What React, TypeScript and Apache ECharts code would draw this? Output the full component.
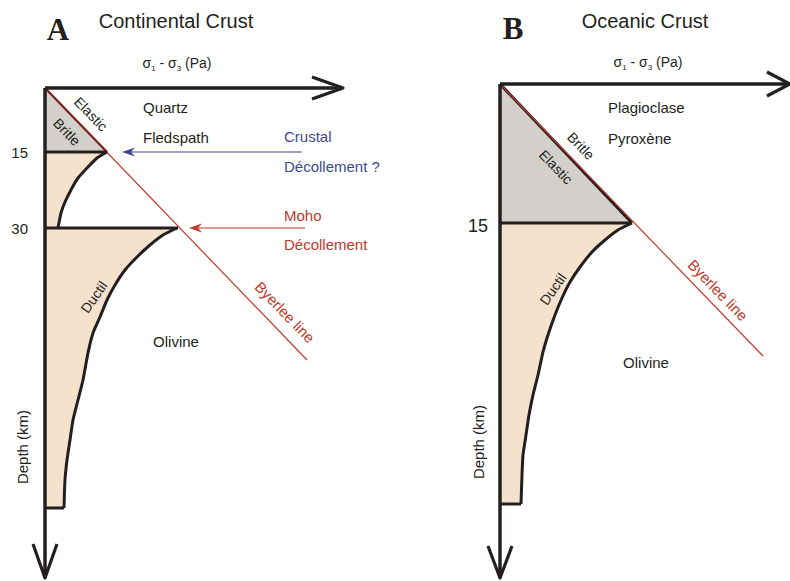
import React, { useEffect, useRef } from "react";
import * as echarts from "echarts";

// ---------------- Panel A : Continental crust (schematic diagram units: x = σ1-σ3, y = depth, downwards)
const A_STRESS_AXIS = [[0, 0], [298, 0]];
const A_STRESS_ARROW = [[267, -11], [298, 0], [267, 11]];
const A_DEPTH_AXIS = [[0, 0], [0, 490]];
const A_DEPTH_ARROW = [[-12, 456], [0, 490], [12, 456]];
const A_BYERLEE = [[0, 0], [262, 272]];
const A_BRITTLE = [[0, 0], [62, 64], [0, 64]];
const A_BRITTLE_EDGE = [[0, 0], [62, 64]];
const A_LEVEL_15 = [[0, 64], [62, 64]];
const A_UPPER_DUCTILE = [[62, 64], [52, 70], [42, 80], [33, 90], [27, 100], [20, 114], [16, 125], [13, 140]];
const A_LEVEL_30 = [[0, 140], [133, 140]];
const A_LOWER_DUCTILE = [[132, 140], [118, 147], [105, 157], [92, 169], [80, 182], [70, 197], [62, 212], [55, 229], [48, 245], [43, 265], [38, 292], [33, 312], [28, 332], [25, 352], [22, 372], [20, 392], [19, 420]];
const A_LOWER_BASE = [[0, 420], [19, 420]];
const A_TICK_LABELS = ["15", "30"];
const A_TICK_DEPTHS = [64, 140];
const A_CRUSTAL_ARROW = [[257, 64], [77, 64]];
const A_MOHO_ARROW = [[260, 140], [144, 140]];

// ---------------- Panel B : Oceanic crust
const B_STRESS_AXIS = [[0, 0], [290, 0]];
const B_STRESS_ARROW = [[267, -12], [290, 0], [267, 12]];
const B_DEPTH_AXIS = [[0, 0], [0, 494]];
const B_DEPTH_ARROW = [[-12, 462], [0, 494], [12, 462]];
const B_BYERLEE = [[0, 0], [263, 272]];
const B_ELASTIC = [[0, 0], [132, 139], [0, 139]];
const B_ELASTIC_EDGE = [[0, 0], [132, 139]];
const B_LEVEL_15 = [[0, 139], [132, 139]];
const B_DUCTILE = [[132, 139], [118, 146], [105, 156], [92, 168], [80, 183], [70, 198], [62, 214], [55, 231], [48, 251], [43, 268], [38, 291], [33, 311], [29, 331], [26, 351], [23, 371], [22, 391], [21, 420]];
const B_BASE = [[0, 420], [21, 420]];
const B_TICK_LABELS = ["15"];
const B_TICK_DEPTHS = [139];

// ---------------- colours
const INK = "#231f20";
const GREY = "#d3cfca";
const BEIGE = "#f4e2cd";
const RED = "#c0392b";
const DARK_RED = "#7b241c";
const BLUE = "#3d4a8f";
const SANS = "'Liberation Sans', Arial, Helvetica, sans-serif";
const SERIF = "'Liberation Serif', 'Times New Roman', serif";

function stroke(api: any, pts: number[][], color: string, width: number, smooth = 0) {
  return {
    type: "polyline",
    shape: { points: pts.map((p) => api.coord(p)), smooth },
    style: { stroke: color, lineWidth: width, fill: "none", lineJoin: "round", lineCap: "butt" },
    silent: true,
  };
}
function fillPoly(api: any, pts: number[][], color: string) {
  return {
    type: "polygon",
    shape: { points: pts.map((p) => api.coord(p)) },
    style: { fill: color, stroke: "none" },
    silent: true,
  };
}
function pointer(api: any, seg: number[][], color: string) {
  const a = api.coord(seg[0]);
  const t = api.coord(seg[1]);
  return [
    {
      type: "line",
      shape: { x1: a[0], y1: a[1], x2: t[0] + 8, y2: t[1] },
      style: { stroke: color, lineWidth: 1.2 },
      silent: true,
    },
    {
      type: "polygon",
      shape: { points: [[t[0], t[1]], [t[0] + 13, t[1] - 4.5], [t[0] + 9, t[1]], [t[0] + 13, t[1] + 4.5]] },
      style: { fill: color, stroke: "none" },
      silent: true,
    },
  ];
}
function ticks(api: any, labels: string[], depths: number[], fontSize: number, gap: number, dy: number) {
  return labels.map((lab, i) => {
    const p = api.coord([0, depths[i]]);
    return {
      type: "text",
      x: p[0] - gap,
      y: p[1] + dy,
      style: { text: lab, align: "right", verticalAlign: "middle", fill: INK, font: `${fontSize}px ${SANS}` },
      silent: true,
    };
  });
}

function panelA(params: any, api: any) {
  const children: any[] = [
    fillPoly(api, A_BRITTLE, GREY),
    fillPoly(api, [[0, 64], ...A_UPPER_DUCTILE, [0, 140]], BEIGE),
    fillPoly(api, [[0, 140], ...A_LOWER_DUCTILE, [0, 420]], BEIGE),
    stroke(api, A_BYERLEE, RED, 1.2),
    stroke(api, A_BRITTLE_EDGE, DARK_RED, 2.2),
    stroke(api, A_LEVEL_15, INK, 3),
    stroke(api, A_UPPER_DUCTILE, INK, 3, 0.2),
    stroke(api, A_LEVEL_30, INK, 3),
    stroke(api, A_LOWER_DUCTILE, INK, 3, 0.2),
    stroke(api, A_LOWER_BASE, INK, 3),
    stroke(api, A_DEPTH_AXIS, INK, 3.5),
    stroke(api, A_STRESS_AXIS, INK, 3.5),
    stroke(api, A_STRESS_ARROW, INK, 3.2),
    stroke(api, A_DEPTH_ARROW, INK, 3.2),
    ...pointer(api, A_CRUSTAL_ARROW, BLUE),
    ...pointer(api, A_MOHO_ARROW, RED),
    ...ticks(api, A_TICK_LABELS, A_TICK_DEPTHS, 15, 17, 0),
  ];
  return { type: "group", children };
}

function panelB(params: any, api: any) {
  const children: any[] = [
    fillPoly(api, B_ELASTIC, GREY),
    fillPoly(api, [[0, 139], ...B_DUCTILE, [0, 420]], BEIGE),
    stroke(api, B_ELASTIC_EDGE, INK, 3),
    stroke(api, B_BYERLEE, RED, 1.2),
    stroke(api, B_LEVEL_15, INK, 3),
    stroke(api, B_DUCTILE, INK, 3, 0.2),
    stroke(api, B_BASE, INK, 3),
    stroke(api, B_DEPTH_AXIS, INK, 3.5),
    stroke(api, B_STRESS_AXIS, INK, 3.5),
    stroke(api, B_STRESS_ARROW, INK, 3.2),
    stroke(api, B_DEPTH_ARROW, INK, 3.2),
    ...ticks(api, B_TICK_LABELS, B_TICK_DEPTHS, 18, 12, 3),
  ];
  return { type: "group", children };
}

const DEG = Math.PI / 180;
function label(text: string, x: number, y: number, opts: any = {}) {
  return {
    type: "text",
    x,
    y,
    z: 100,
    rotation: (opts.rot || 0) * DEG,
    silent: true,
    style: {
      text,
      align: opts.align || "center",
      verticalAlign: "middle",
      fill: opts.color || INK,
      font: opts.font || `15px ${SANS}`,
    },
  };
}
function sigmaLabel(x: number, y: number) {
  return {
    type: "text",
    x,
    y,
    z: 100,
    silent: true,
    style: {
      text: "{s|σ}{u|1}{s| - σ}{u|3}{s| (Pa)}",
      align: "center",
      verticalAlign: "middle",
      fill: INK,
      rich: {
        s: { fontSize: 14, fontFamily: SANS, lineHeight: 18, verticalAlign: "middle", fill: INK },
        u: { fontSize: 8, fontFamily: SANS, lineHeight: 8, verticalAlign: "bottom", fill: INK },
      },
    },
  };
}

export default function App() {
  const ref = useRef<HTMLDivElement>(null);
  useEffect(() => {
    if (!ref.current) return;
    const chart = echarts.init(ref.current, undefined, { renderer: "svg" });
    chart.setOption({
      animation: false,
      backgroundColor: "#ffffff",
      grid: [
        { left: 45, top: 88, width: 300, height: 490 },
        { left: 500, top: 84, width: 290, height: 494 },
      ],
      xAxis: [
        { type: "value", gridIndex: 0, min: 0, max: 300, show: false },
        { type: "value", gridIndex: 1, min: 0, max: 290, show: false },
      ],
      yAxis: [
        { type: "value", gridIndex: 0, min: 0, max: 490, inverse: true, show: false },
        { type: "value", gridIndex: 1, min: 0, max: 494, inverse: true, show: false },
      ],
      series: [
        { type: "custom", xAxisIndex: 0, yAxisIndex: 0, data: [[0, 0]], renderItem: panelA, clip: false, silent: true, z: 2 },
        { type: "custom", xAxisIndex: 1, yAxisIndex: 1, data: [[0, 0]], renderItem: panelB, clip: false, silent: true, z: 2 },
      ],
      graphic: [
        // Panel A
        label("A", 58, 29, { font: `bold 31px ${SERIF}` }),
        label("Continental Crust", 176, 21, { font: `20px ${SANS}` }),
        sigmaLabel(177, 63),
        label("Quartz", 143, 107, { align: "left" }),
        label("Fledspath", 143, 137, { align: "left" }),
        label("Crustal", 284, 136, { align: "left", color: BLUE }),
        label("Décollement ?", 284, 166, { align: "left", color: BLUE }),
        label("Moho", 284, 215, { align: "left", color: RED }),
        label("Décollement", 284, 244, { align: "left", color: RED }),
        label("Elastic", 91, 114, { rot: -46, font: `14px ${SANS}` }),
        label("Britle", 67, 132, { rot: -46, font: `14px ${SANS}` }),
        label("Ductil", 94, 297, { rot: 55, font: `14px ${SANS}` }),
        label("Byerlee line", 285, 312, { rot: -46, color: RED }),
        label("Olivine", 176, 341),
        label("Depth (km)", 22, 447, { rot: 90 }),
        // Panel B
        label("B", 513, 28, { font: `bold 31px ${SERIF}` }),
        label("Oceanic Crust", 645, 21, { font: `20px ${SANS}` }),
        sigmaLabel(648, 62),
        label("Plagioclase", 608, 107, { align: "left" }),
        label("Pyroxène", 608, 138, { align: "left" }),
        label("Britle", 581, 146, { rot: -46, font: `14px ${SANS}` }),
        label("Elastic", 556, 167, { rot: -46, font: `14px ${SANS}` }),
        label("Ductil", 553, 289, { rot: 55, font: `14px ${SANS}` }),
        label("Byerlee line", 718, 290, { rot: -46, color: RED }),
        label("Olivine", 646, 362),
        label("Depth (km)", 478, 442, { rot: 90 }),
      ],
    });
    return () => chart.dispose();
  }, []);
  return (
    <div
      ref={ref}
      style={{ position: "fixed", left: 0, top: 0, width: 790, height: 581, background: "#fff" }}
    />
  );
}
